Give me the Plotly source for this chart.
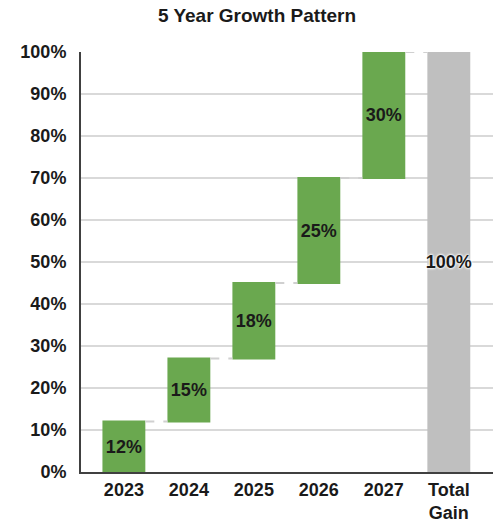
import plotly.graph_objects as go

categories = ["2023", "2024", "2025", "2026", "2027", "Total<br>Gain"]
values = [12, 15, 18, 25, 30, 100]
measures = ["relative", "relative", "relative", "relative", "relative", "total"]
labels = ["12%", "15%", "18%", "25%", "30%", "100%"]
y_ticks = [0, 10, 20, 30, 40, 50, 60, 70, 80, 90, 100]
y_tick_labels = [f"{t}%" for t in y_ticks]

FONT = "Liberation Sans, Arial, sans-serif"

fig = go.Figure(
    go.Waterfall(
        x=categories,
        y=values,
        measure=measures,
        text=labels,
        textposition="inside",
        insidetextanchor="middle",
        textangle=0,
        constraintext="none",
        textfont=dict(
            family=FONT, size=18, color="#1a1a1a", weight="bold",
            shadow=["none"] * 5 + ["0px 0px 3px white, 0px 0px 3px white, 0px 0px 2px white"],
        ),
        increasing=dict(marker=dict(color="#6AA84F")),
        totals=dict(marker=dict(color="#BFBFBF")),
        connector=dict(mode="between", line=dict(color="#D0D0D0", width=2, dash="dash")),
        width=0.66,
        hoverinfo="skip",
    )
)

fig.update_layout(
    width=498,
    height=519,
    margin=dict(l=81, r=5, t=52, b=47),
    paper_bgcolor="white",
    plot_bgcolor="white",
    showlegend=False,
    title=dict(
        text="5 Year Growth Pattern",
        x=0.516, xref="container", xanchor="center",
        y=0.971, yref="container", yanchor="middle",
        font=dict(family=FONT, size=19, color="#1a1a1a", weight="bold"),
    ),
    xaxis=dict(
        type="category",
        range=[-0.66, 5.68],
        automargin=False,
        showgrid=False,
        showline=True,
        linecolor="#404040",
        linewidth=2,
        ticks="",
        ticklabelstandoff=0,
        tickfont=dict(family=FONT, size=18, color="#1a1a1a", weight="bold"),
    ),
    yaxis=dict(
        range=[0, 100],
        automargin=False,
        tickvals=y_ticks,
        ticktext=y_tick_labels,
        showgrid=True,
        gridcolor="#D9D9D9",
        gridwidth=1.5,
        showline=True,
        linecolor="#404040",
        linewidth=2,
        zeroline=False,
        ticks="",
        ticklabelstandoff=9,
        tickfont=dict(family=FONT, size=18, color="#1a1a1a", weight="bold"),
    ),
)

fig.write_html(
    "out.html",
    config={"displayModeBar": False},
    post_script="document.body.style.margin='0';document.body.style.overflow='hidden';",
)
